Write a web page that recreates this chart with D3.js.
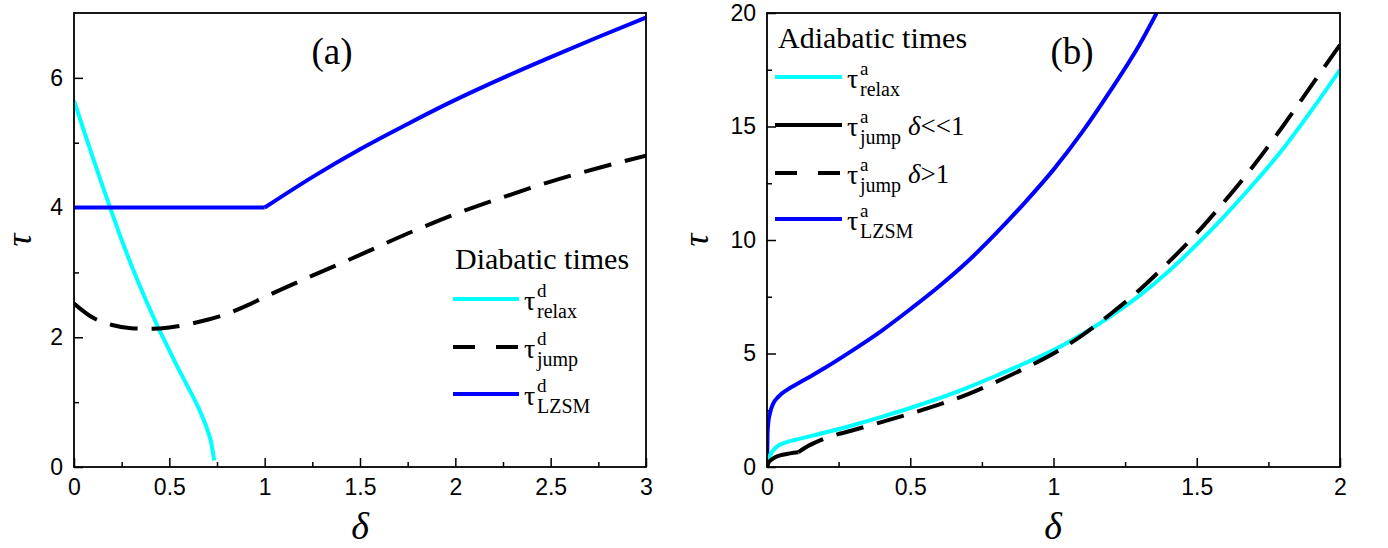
<!DOCTYPE html>
<html><head><meta charset="utf-8">
<script src="https://cdn.jsdelivr.net/npm/d3@7"></script>
<style>body{margin:0;background:#fff}svg{display:block}</style>
</head><body>
<svg id="c" width="1388" height="548"></svg>
<script>
// ---------- Panel (a): diabatic times ----------
const deltaRelaxD = [0,0.05,0.1,0.15,0.2,0.25,0.3,0.35,0.4,0.45,0.5,0.55,0.6,0.65,0.7,0.72,0.735];
const tauRelaxD   = [5.65,5.2,4.76,4.33,3.91,3.5,3.12,2.76,2.42,2.1,1.8,1.5,1.22,0.93,0.57,0.37,0.1];
const deltaJumpD  = [0,0.1,0.2,0.3,0.4,0.5,0.6,0.7,0.8,0.9,1.0,1.25,1.5,1.75,2.0,2.25,2.5,2.75,3.0];
const tauJumpD    = [2.52,2.3,2.19,2.14,2.13,2.15,2.2,2.27,2.36,2.48,2.62,2.95,3.27,3.6,3.9,4.16,4.4,4.61,4.8];
const deltaLZSMFlatD = [0,0.5,1.0];
const tauLZSMFlatD   = [4,4,4];
const deltaLZSMD  = [1.0,1.25,1.5,1.75,2.0,2.25,2.5,2.75,3.0];
const tauLZSMD    = [4,4.47,4.9,5.29,5.66,6.0,6.32,6.63,6.93];
const xTicksA = [0,0.5,1,1.5,2,2.5,3];
const xTickLabelsA = ["0","0.5","1","1.5","2","2.5","3"];
const yTicksA = [0,2,4,6];

// ---------- Panel (b): adiabatic times ----------
const deltaRelaxA = [0,0.01,0.03,0.07,0.1,0.2,0.3,0.4,0.5,0.6,0.7,0.8,0.9,1.0,1.1,1.2,1.3,1.4,1.5,1.6,1.7,1.8,1.9,2.0];
const tauRelaxA   = [0.15,0.5,0.85,1.1,1.2,1.51,1.84,2.21,2.6,3.02,3.5,4.02,4.57,5.15,5.85,6.65,7.55,8.6,9.8,11.1,12.5,14.0,15.7,17.5];
const deltaJumpSmallA = [0,0.005,0.015,0.03,0.05,0.08,0.11];
const tauJumpSmallA   = [0,0.18,0.32,0.44,0.53,0.6,0.65];
const deltaJumpLargeA = [0.11,0.14,0.2,0.3,0.4,0.5,0.6,0.7,0.8,0.9,1.0,1.1,1.2,1.3,1.4,1.5,1.6,1.7,1.8,1.9,2.0];
const tauJumpLargeA   = [0.65,0.9,1.25,1.62,1.98,2.35,2.75,3.2,3.75,4.35,5.0,5.8,6.75,7.8,9.0,10.3,11.75,13.3,15.0,16.8,18.6];
const deltaLZSMA = [0,0.002,0.005,0.01,0.02,0.04,0.07,0.1,0.15,0.2,0.3,0.4,0.5,0.6,0.7,0.8,0.9,1.0,1.1,1.2,1.3,1.36];
const tauLZSMA   = [0,1.5,2.0,2.35,2.75,3.1,3.4,3.62,3.98,4.35,5.15,6.0,6.95,7.95,9.05,10.3,11.65,13.1,14.75,16.6,18.6,20.0];
const xTicksB = [0,0.5,1,1.5,2];
const xTickLabelsB = ["0","0.5","1","1.5","2"];
const yTicksB = [0,5,10,15,20];

const CYAN = "#00FFFF", BLUE = "#0000FF", BLACK = "#000";
const svg = d3.select("#c");
const zip = (xs, ys) => xs.map((x,i)=>[x, ys[i]]);

function panel(cfg){
  const x = d3.scaleLinear().domain(cfg.xDomain).range(cfg.xRange);
  const y = d3.scaleLinear().domain(cfg.yDomain).range([467,13]);
  const g = svg.append("g");
  g.append("g").attr("transform","translate(0,467)")
    .call(d3.axisBottom(x).tickValues(cfg.xMinor).tickSize(-5).tickFormat(""))
    .call(a=>a.select(".domain").remove());
  g.append("g").attr("transform",`translate(${cfg.xRange[0]},0)`)
    .call(d3.axisLeft(y).tickValues(cfg.yMinor).tickSize(-5).tickFormat(""))
    .call(a=>a.select(".domain").remove());
  const ax = g.append("g").attr("transform","translate(0,467)")
    .call(d3.axisBottom(x).tickValues(cfg.xTicks).tickSize(-9).tickPadding(12)
      .tickFormat((d,i)=>cfg.xLabels[i]));
  ax.select(".domain").remove();
  ax.selectAll("text").attr("font-family","Liberation Sans, Arial, sans-serif").attr("font-size",23).attr("fill","#000");
  const ay = g.append("g").attr("transform",`translate(${cfg.xRange[0]},0)`)
    .call(d3.axisLeft(y).tickValues(cfg.yTicks).tickSize(-9).tickPadding(11).tickFormat(d3.format("d")));
  ay.select(".domain").remove();
  ay.selectAll("text").attr("font-family","Liberation Sans, Arial, sans-serif").attr("font-size",23).attr("fill","#000");
  g.selectAll(".tick line").attr("stroke","#000").attr("stroke-width",1.5);
  const cid = "clip"+cfg.id;
  svg.append("clipPath").attr("id",cid).append("rect")
    .attr("x",cfg.xRange[0]).attr("y",13).attr("width",cfg.xRange[1]-cfg.xRange[0]).attr("height",454);
  const lines = g.append("g").attr("clip-path",`url(#${cid})`);
  cfg.series.forEach(s=>{
    const gen = d3.line().x(d=>x(d[0])).y(d=>y(d[1])).curve(s.curve || d3.curveMonotoneX);
    lines.append("path").attr("d",gen(s.data)).attr("fill","none")
      .attr("stroke",s.color).attr("stroke-width",4)
      .attr("stroke-dasharray",s.dash||null).attr("stroke-linecap","butt").attr("stroke-linejoin","round");
  });
  g.append("rect").attr("x",cfg.xRange[0]).attr("y",13)
    .attr("width",cfg.xRange[1]-cfg.xRange[0]).attr("height",454)
    .attr("fill","none").attr("stroke","#000").attr("stroke-width",1.8);
  return {x,y,g};
}

panel({id:"a", xDomain:[0,3], xRange:[74,646], yDomain:[0,7],
  xTicks:xTicksA, xLabels:xTickLabelsA, xMinor:[0.25,0.75,1.25,1.75,2.25,2.75],
  yTicks:yTicksA, yMinor:[1,3,5],
  series:[
    {data:zip(deltaRelaxD,tauRelaxD), color:CYAN},
    {data:zip(deltaJumpD,tauJumpD), color:BLACK, dash:"28,14"},
    {data:zip(deltaLZSMFlatD,tauLZSMFlatD), color:BLUE, curve:d3.curveLinear},
    {data:zip(deltaLZSMD,tauLZSMD), color:BLUE}
  ]});

panel({id:"b", xDomain:[0,2], xRange:[767,1340], yDomain:[0,20],
  xTicks:xTicksB, xLabels:xTickLabelsB, xMinor:[0.25,0.75,1.25,1.75],
  yTicks:yTicksB, yMinor:[2.5,7.5,12.5,17.5],
  series:[
    {data:zip(deltaLZSMA,tauLZSMA), color:BLUE},
    {data:zip(deltaRelaxA,tauRelaxA), color:CYAN},
    {data:zip(deltaJumpSmallA,tauJumpSmallA), color:BLACK},
    {data:zip(deltaJumpLargeA,tauJumpLargeA), color:BLACK, dash:"28,14"}
  ]});

const serif = "Liberation Serif, Times New Roman, serif";
svg.append("text").attr("x",332).attr("y",64).attr("text-anchor","middle")
  .attr("font-family",serif).attr("font-size",37).text("(a)");
svg.append("text").attr("x",1072).attr("y",64).attr("text-anchor","middle")
  .attr("font-family",serif).attr("font-size",37).text("(b)");
[360,1053].forEach(cx=>{
  svg.append("text").attr("x",cx).attr("y",539).attr("text-anchor","middle")
    .attr("font-family",serif).attr("font-style","italic").attr("font-size",38).text("δ");
});
[[31,240],[708,240]].forEach(([bx,cy])=>{
  svg.append("text").attr("transform",`translate(${bx},${cy}) rotate(-90)`).attr("text-anchor","middle")
    .attr("font-family",serif).attr("font-style","italic").attr("font-size",36).text("τ");
});

function legend(title, tx, ty, lx0, lx1, items){
  svg.append("text").attr("x",tx).attr("y",ty).attr("font-family",serif).attr("font-size",30).text(title);
  items.forEach(it=>{
    const ly = it.y;
    svg.append("line").attr("x1",lx0).attr("x2",lx1).attr("y1",ly).attr("y2",ly)
      .attr("stroke",it.color).attr("stroke-width",4).attr("stroke-dasharray",it.dash||null);
    const tauX = lx1 + 5;
    svg.append("text").attr("x",tauX).attr("y",ly+11).attr("font-family",serif).attr("font-size",28).text("τ");
    svg.append("text").attr("x",tauX+13).attr("y",ly-2).attr("font-family",serif).attr("font-size",19).text(it.sup);
    svg.append("text").attr("x",tauX+13).attr("y",ly+19).attr("font-family",serif).attr("font-size",20).text(it.sub);
    if(it.cond){
      const t = svg.append("text").attr("x",tauX+61).attr("y",ly+10).attr("font-family",serif).attr("font-size",27);
      t.append("tspan").attr("font-style","italic").text("δ");
      t.append("tspan").text(it.cond);
    }
  });
}
legend("Diabatic times", 455, 269, 453, 519, [
  {y:299, color:CYAN, sup:"d", sub:"relax"},
  {y:347, color:BLACK, dash:"22,21", sup:"d", sub:"jump"},
  {y:394, color:BLUE, sup:"d", sub:"LZSM"}
]);
legend("Adiabatic times", 778, 48, 775, 842, [
  {y:77, color:CYAN, sup:"a", sub:"relax"},
  {y:125, color:BLACK, sup:"a", sub:"jump", cond:"<<1"},
  {y:173, color:BLACK, dash:"22,21", sup:"a", sub:"jump", cond:">1"},
  {y:219, color:BLUE, sup:"a", sub:"LZSM"}
]);
</script>
</body></html>
